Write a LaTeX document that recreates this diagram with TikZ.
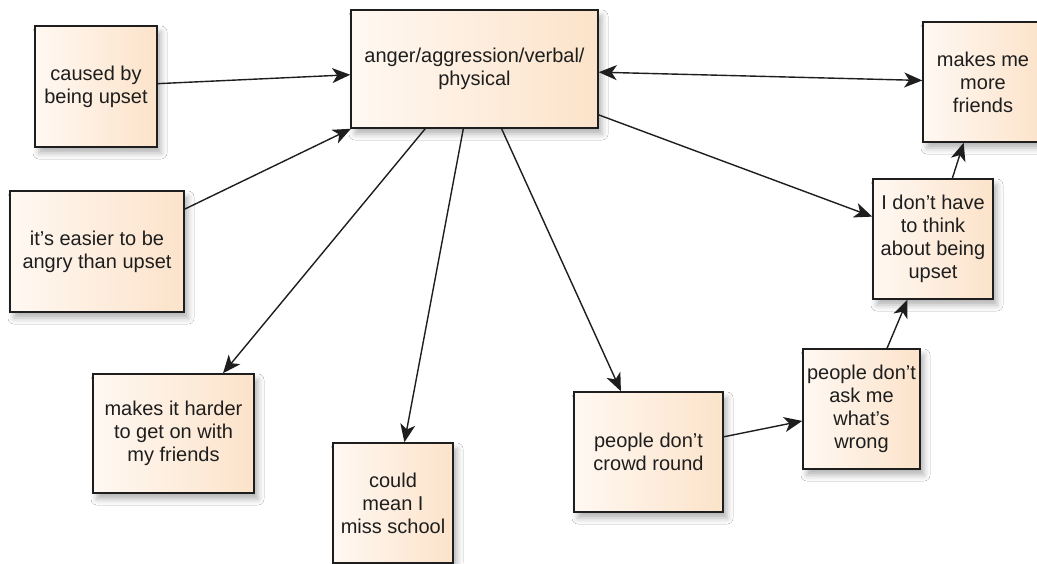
\documentclass[tikz,border=0pt]{standalone}
\usepackage{fontspec}
\setmainfont{Liberation Sans}
\usetikzlibrary{arrows.meta,shadows.blur}
\definecolor{boxlight}{HTML}{FFF8F2}
\definecolor{boxdark}{HTML}{FCE3CA}
\definecolor{ink}{HTML}{1E1E1E}
\tikzset{
  box/.style={draw=ink, line width=1.5pt, left color=boxlight, right color=boxdark,
    align=center, inner sep=2pt, font=\fontsize{20}{23}\selectfont, text=ink,
    blur shadow={shadow xshift=4pt, shadow yshift=-6pt, shadow blur radius=6pt, shadow opacity=30}},
  headtip/.tip={Stealth[length=18pt,width=15pt,inset=5pt]},
  link/.style={draw=ink, line width=1.4pt, -headtip},
  duallink/.style={draw=ink, line width=1.4pt, headtip-headtip},
}
\begin{document}
\begin{tikzpicture}[x=1pt,y=-1pt]
\fill[white] (0,0) rectangle (1037,563);
\useasboundingbox (0,0) rectangle (1037,563);

\node[box, minimum width=247pt, minimum height=118pt] (main) at (474.5,69) {anger/aggression/verbal/\\physical};
\node[box, minimum width=122pt, minimum height=121pt] (caused) at (96,86.5) {caused by\\being upset};
\node[box, minimum width=174pt, minimum height=121pt] (easier) at (97,251.5) {it's easier to be\\angry than upset};
\node[box, minimum width=161pt, minimum height=119pt] (harder) at (173.5,433.5) {makes it harder\\to get on with\\my friends};
\node[box, minimum width=120pt, minimum height=120pt] (could) at (393,503) {could\\mean I\\miss school};
\node[box, minimum width=149pt, minimum height=120pt] (crowd) at (648.5,452) {people don't\\crowd round};
\node[box, minimum width=117pt, minimum height=120pt] (ask) at (861.5,409) {people don't\\ask me\\what's\\wrong};
\node[box, minimum width=120pt, minimum height=120pt] (think) at (933,239) {I don't have\\to think\\about being\\upset};
\node[box, minimum width=120pt, minimum height=120pt] (friends) at (983,82) {makes me\\more\\friends};

\draw[link] (caused) -- (main);
\draw[link] (easier) -- (main);
\draw[link] (main) -- (harder);
\draw[link] (main) -- (could);
\draw[link] (main) -- (crowd);
\draw[duallink] (main) -- (friends);
\draw[link] (main) -- (think);
\draw[link] (crowd) -- (ask);
\draw[link] (ask) -- (think);
\draw[link] (think) -- (friends);
\end{tikzpicture}
\end{document}
